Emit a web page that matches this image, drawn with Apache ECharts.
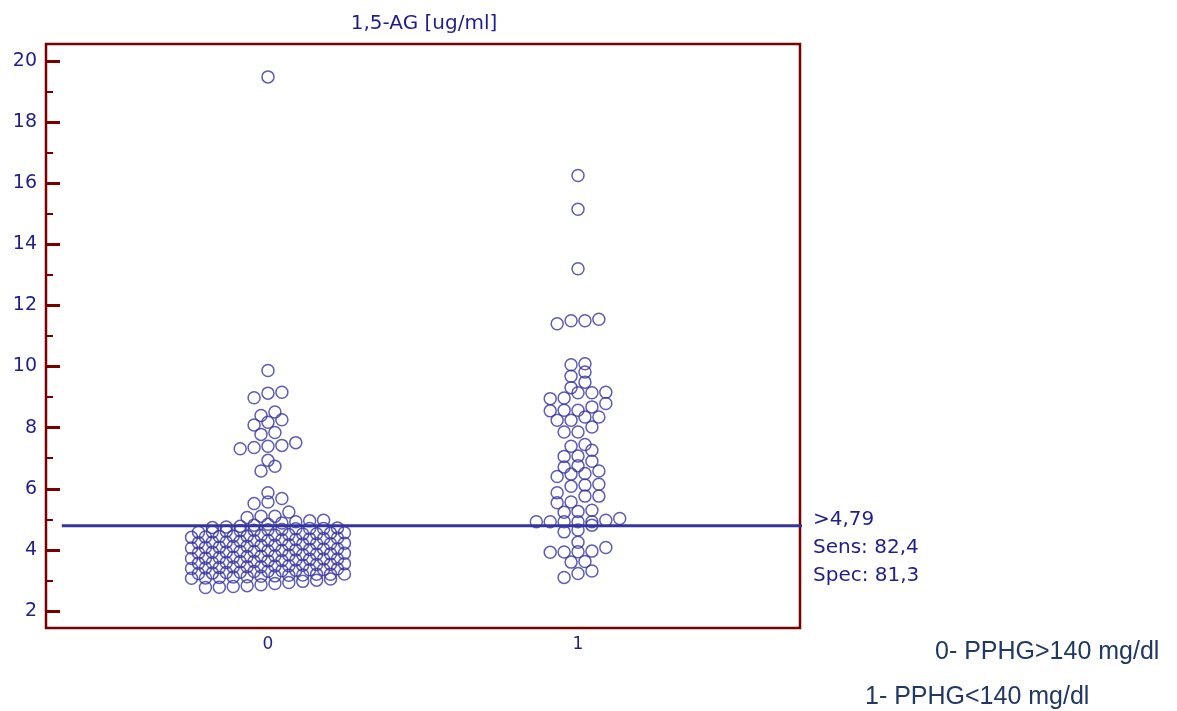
<!DOCTYPE html>
<html>
<head>
<meta charset="utf-8">
<script src="https://cdn.jsdelivr.net/npm/echarts@6/dist/echarts.min.js"></script>
<style>
  html, body { margin: 0; padding: 0; background: #ffffff; }
  #chart { width: 1177px; height: 711px; }
</style>
</head>
<body>
<div id="chart"></div>
<script>
// ---------------- DATA ----------------
const categories = ['0', '1'];
const titleText = '1,5-AG [ug/ml]';

// Group 0 values (ug/ml)
const group0Values = [
  2.77, 2.78, 2.80, 2.83, 2.86, 2.90, 2.93, 2.97, 3.01, 3.05,
  3.07, 3.08, 3.10, 3.11, 3.12, 3.14, 3.15, 3.17, 3.18, 3.20, 3.20, 3.21, 3.23,
  3.24, 3.26, 3.27, 3.29, 3.30, 3.32, 3.33, 3.35, 3.36, 3.38, 3.39, 3.41,
  3.42, 3.44, 3.45, 3.45, 3.47, 3.48, 3.50, 3.52, 3.53, 3.55, 3.56, 3.58, 3.59,
  3.61, 3.62, 3.64, 3.65, 3.67, 3.69, 3.70, 3.70, 3.72, 3.73, 3.75, 3.76, 3.78,
  3.79, 3.81, 3.83, 3.84, 3.86, 3.87, 3.89, 3.90, 3.92, 3.93, 3.95, 3.95, 3.97,
  3.98, 4.00, 4.01, 4.03, 4.04, 4.06, 4.08, 4.09, 4.11, 4.12, 4.14, 4.15,
  4.17, 4.19, 4.20, 4.20, 4.22, 4.23, 4.25, 4.26, 4.28, 4.30, 4.31, 4.33, 4.34,
  4.36, 4.37, 4.39, 4.41, 4.42, 4.44, 4.45, 4.45, 4.47, 4.48, 4.50, 4.52, 4.53,
  4.55, 4.56, 4.58, 4.59, 4.61, 4.63, 4.64, 4.66, 4.67, 4.69, 4.70, 4.70, 4.72,
  4.73, 4.75, 4.77, 4.81, 4.84, 4.88, 4.92, 4.95, 4.97,
  5.06, 5.10, 5.10, 5.24, 5.52, 5.57, 5.68, 5.87, 6.58, 6.74, 6.93,
  7.31, 7.35, 7.39, 7.42, 7.51, 7.78, 7.84, 8.09, 8.18, 8.26, 8.40, 8.51,
  8.98, 9.13, 9.16, 9.87, 19.48
];

// Group 1 values (ug/ml)
const group1Values = [
  3.10, 3.23, 3.31, 3.60, 3.62, 3.92, 3.93, 3.94, 3.96, 4.08, 4.25,
  4.59, 4.65, 4.81, 4.92, 4.92, 4.92, 4.92, 4.92, 4.97, 5.03,
  5.23, 5.26, 5.30, 5.54, 5.57, 5.76, 5.76, 5.87, 6.08, 6.12, 6.15,
  6.40, 6.48, 6.50, 6.58, 6.71, 6.75, 6.90, 7.06, 7.07, 7.26, 7.39, 7.45,
  7.86, 7.86, 8.02, 8.24, 8.24, 8.35, 8.35, 8.55, 8.57, 8.57, 8.68, 8.79,
  8.95, 8.97, 9.14, 9.14, 9.16, 9.31, 9.49, 9.68, 9.82, 10.06, 10.09,
  11.40, 11.50, 11.50, 11.55, 13.20, 15.15, 16.25
];

const yTickValues = [2, 4, 6, 8, 10, 12, 14, 16, 18, 20];
const yMinorTickValues = [3, 5, 7, 9, 11, 13, 15, 17, 19];
const cutoffValue = 4.79;
const cutoffExtent = [-0.665, 1.748];
const annotationLines = ['>4,79', 'Sens: 82,4', 'Spec: 81,3'];
const legendLines = ['0- PPHG>140 mg/dl', '1- PPHG<140 mg/dl'];

// ---------------- LAYOUT ----------------
const GRID = { left: 46, top: 44, width: 754, height: 584 };
const X_MIN = -0.716, X_MAX = 1.716;
const Y_MIN = 1.444, Y_MAX = 20.556;
const BIN_H = 0.3;            // value height of one dot row
const ROW_CAPS = [12, 11];    // widest rows, alternating for a staggered pack
const DOT_SPACING_PX = 13.9;
const pxPerX = GRID.width / (X_MAX - X_MIN);
const stepX = DOT_SPACING_PX / pxPerX;

function dotLayout(values, center) {
  const sorted = values.slice().sort((a, b) => a - b);
  const rows = [];
  let cur = null;
  let capIdx = 0;
  sorted.forEach(v => {
    const full = cur && cur.items.length >= cur.cap;
    if (!cur || v >= cur.start + BIN_H - 1e-9 || full) {
      if (full) capIdx = (capIdx + 1) % 2; else capIdx = 0;
      cur = { start: v, items: [], cap: ROW_CAPS[capIdx] };
      rows.push(cur);
    }
    cur.items.push(v);
  });
  const pts = [];
  rows.forEach(r => {
    const n = r.items.length;
    r.items.forEach((v, i) => pts.push([center + (i - (n - 1) / 2) * stepX, v]));
  });
  return pts;
}

const navy = '#1f1f8c';
const dotColor = '#3434a4';
const frame = '#780000';
const chartFont = '"DejaVu Sans", sans-serif';

const chart = echarts.init(document.getElementById('chart'), null, { renderer: 'canvas' });

const dotStyle = { color: 'rgba(255,255,255,0)', borderColor: dotColor, borderWidth: 1.5 };

const option = {
  backgroundColor: '#ffffff',
  animation: false,
  grid: Object.assign({ show: true, borderColor: frame, borderWidth: 2.5, backgroundColor: 'transparent', containLabel: false }, GRID),
  xAxis: {
    type: 'value',
    min: X_MIN, max: X_MAX,
    axisLine: { show: false, onZero: false },
    splitLine: { show: false },
    axisTick: { show: false },
    axisLabel: {
      customValues: [0, 1],
      formatter: v => categories[Math.round(v)],
      color: navy, fontFamily: chartFont, fontSize: 17, margin: 8
    }
  },
  yAxis: [
    {
      type: 'value',
      min: Y_MIN, max: Y_MAX,
      position: 'left',
      axisLine: { show: false, onZero: false },
      splitLine: { show: false },
      axisTick: { show: true, inside: true, length: 14, customValues: yTickValues, lineStyle: { color: frame, width: 3 } },
      axisLabel: { customValues: yTickValues, color: navy, fontFamily: chartFont, fontSize: 19, margin: 9 }
    },
    {
      type: 'value',
      min: Y_MIN, max: Y_MAX,
      position: 'left',
      axisLine: { show: false, onZero: false },
      splitLine: { show: false },
      axisTick: { show: true, inside: true, length: 7, customValues: yMinorTickValues, lineStyle: { color: frame, width: 2 } },
      axisLabel: { show: false }
    }
  ],
  series: [
    {
      type: 'scatter',
      data: dotLayout(group0Values, 0),
      symbol: 'circle',
      symbolSize: 12,
      itemStyle: dotStyle,
      z: 2
    },
    {
      type: 'scatter',
      data: dotLayout(group1Values, 1),
      symbol: 'circle',
      symbolSize: 12,
      itemStyle: dotStyle,
      z: 2
    },
    {
      type: 'line',
      data: [[cutoffExtent[0], cutoffValue], [cutoffExtent[1], cutoffValue]],
      symbol: 'none',
      clip: false,
      lineStyle: { color: '#34349e', width: 3 },
      z: 3
    }
  ],
  graphic: [
    { type: 'text', x: 424, y: 24, style: { text: titleText, fill: navy, font: '20px ' + chartFont, align: 'center', verticalAlign: 'middle', textAlign: 'center', textVerticalAlign: 'middle' } },
    { type: 'text', x: 813, y: 520, style: { text: annotationLines[0], fill: navy, font: '20px ' + chartFont, verticalAlign: 'middle', textVerticalAlign: 'middle' } },
    { type: 'text', x: 813, y: 548, style: { text: annotationLines[1], fill: navy, font: '20px ' + chartFont, verticalAlign: 'middle', textVerticalAlign: 'middle' } },
    { type: 'text', x: 813, y: 576, style: { text: annotationLines[2], fill: navy, font: '20px ' + chartFont, verticalAlign: 'middle', textVerticalAlign: 'middle' } },
    { type: 'text', x: 935, y: 652, style: { text: legendLines[0], fill: '#203864', font: '25px "Liberation Sans", Arial, sans-serif', verticalAlign: 'middle', textVerticalAlign: 'middle' } },
    { type: 'text', x: 865, y: 697, style: { text: legendLines[1], fill: '#203864', font: '25px "Liberation Sans", Arial, sans-serif', verticalAlign: 'middle', textVerticalAlign: 'middle' } }
  ]
};

chart.setOption(option);
</script>
</body>
</html>
